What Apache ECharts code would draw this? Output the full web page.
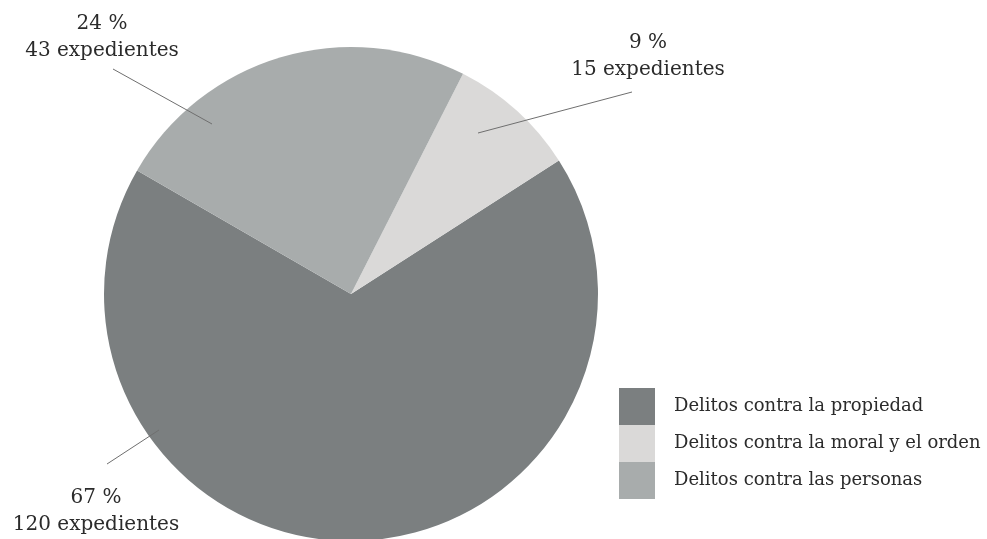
<!DOCTYPE html>
<html>
<head>
<meta charset="utf-8">
<script src="https://cdn.jsdelivr.net/npm/echarts@6/dist/echarts.min.js"></script>
<style>html,body{margin:0;padding:0;background:#fff;}#c{width:987px;height:539px;}</style>
</head>
<body>
<div id="c"></div>
<script>
// ---- data ----
var categories = ['Delitos contra la propiedad', 'Delitos contra la moral y el orden', 'Delitos contra las personas'];
var counts = [120, 15, 43];
var percents = [67, 9, 24];
var colors = ['#7b7f80', '#dad9d8', '#a8acac'];

// ---- label placement (annotation layout) ----
var labelPos = [
  { x: 96, y: 511, line: [[107, 464], [159, 430]] },
  { x: 648, y: 56, line: [[632, 92], [478, 133]] },
  { x: 102, y: 37, line: [[113, 69], [212, 124]] }
];

var chart = echarts.init(document.getElementById('c'), null, { renderer: 'canvas' });
var FONT = '"DejaVu Serif", serif';

var pieData = categories.map(function (name, i) {
  return { name: name, value: counts[i], itemStyle: { color: colors[i] } };
});
var labelData = categories.map(function (name, i) {
  return { name: name, value: counts[i], itemStyle: { color: 'rgba(0,0,0,0)' } };
});

var common = {
  type: 'pie',
  center: [351, 294],
  radius: [0, 247],
  startAngle: 150,
  clockwise: false,
  silent: true,
  emphasis: { disabled: true }
};

chart.setOption({
  animation: false,
  backgroundColor: '#ffffff',
  legend: {
    orient: 'vertical',
    left: 619,
    top: 388,
    padding: 0,
    itemWidth: 36,
    itemHeight: 37,
    itemGap: 0,
    icon: 'rect',
    selectedMode: false,
    data: categories,
    textStyle: { fontFamily: FONT, fontSize: 18, color: '#2b2b2b', padding: [0, 0, 0, 14] }
  },
  series: [
    Object.assign({}, common, {
      z: 2,
      data: pieData,
      label: { show: false },
      labelLine: { show: false }
    }),
    Object.assign({}, common, {
      z: 3,
      data: labelData,
      label: {
        show: true,
        position: 'outside',
        fontFamily: FONT,
        fontSize: 20,
        lineHeight: 27,
        color: '#2b2b2b',
        align: 'center',
        formatter: function (p) {
          return percents[p.dataIndex] + ' %\n' + counts[p.dataIndex] + ' expedientes';
        }
      },
      labelLine: { show: true, showAbove: true, lineStyle: { color: '#6f6f6f', width: 1 } },
      labelLayout: function (p) {
        var L = labelPos[p.dataIndex];
        return {
          x: L.x, y: L.y, align: 'center', verticalAlign: 'middle',
          labelLinePoints: L.line
        };
      }
    })
  ]
});
</script>
</body>
</html>
